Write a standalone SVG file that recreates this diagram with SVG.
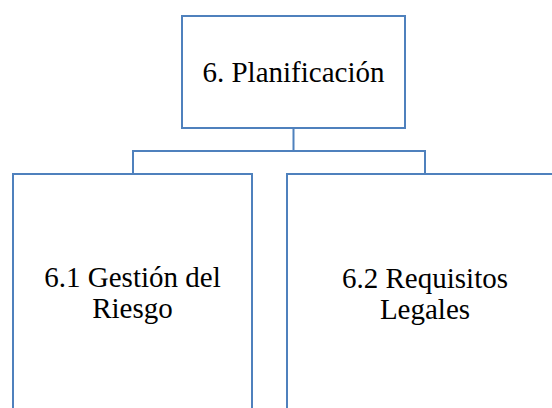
<svg xmlns="http://www.w3.org/2000/svg" width="552" height="408" viewBox="0 0 552 408" font-family="'Liberation Serif', serif">
<style>
.box{fill:#ffffff;stroke:#4f81bd;stroke-width:2}
.con{fill:none;stroke:#4f81bd;stroke-width:2}
</style>
<rect width="552" height="408" fill="#ffffff"/>
<g id="connectors">
<path class="con" d="M293.5 128 V151 M133 174 V151 H425 V174"/>
</g>
<g id="n0">
<rect class="box" x="182" y="16" width="223" height="112"/>
<text x="293.5" y="82" font-size="29" font-family="'Liberation Serif', serif" text-anchor="middle"><tspan font-family="'Liberation Serif', serif">6. Planificación</tspan></text>
</g>
<g id="n1">
<rect class="box" x="13" y="174" width="239" height="250"/>
<text x="132.5" y="287" font-size="29" font-family="'Liberation Serif', serif" text-anchor="middle"><tspan font-family="'Liberation Serif', serif">6.1 Gestión del</tspan></text>
<text x="132.5" y="318" font-size="29" font-family="'Liberation Serif', serif" text-anchor="middle"><tspan font-family="'Liberation Serif', serif">Riesgo</tspan></text>
</g>
<g id="n2">
<rect class="box" x="287" y="174" width="276" height="250"/>
<text x="425" y="288" font-size="29" font-family="'Liberation Serif', serif" text-anchor="middle"><tspan font-family="'Liberation Serif', serif">6.2 Requisitos</tspan></text>
<text x="425" y="319" font-size="29" font-family="'Liberation Serif', serif" text-anchor="middle"><tspan font-family="'Liberation Serif', serif">Legales</tspan></text>
</g>
</svg>
